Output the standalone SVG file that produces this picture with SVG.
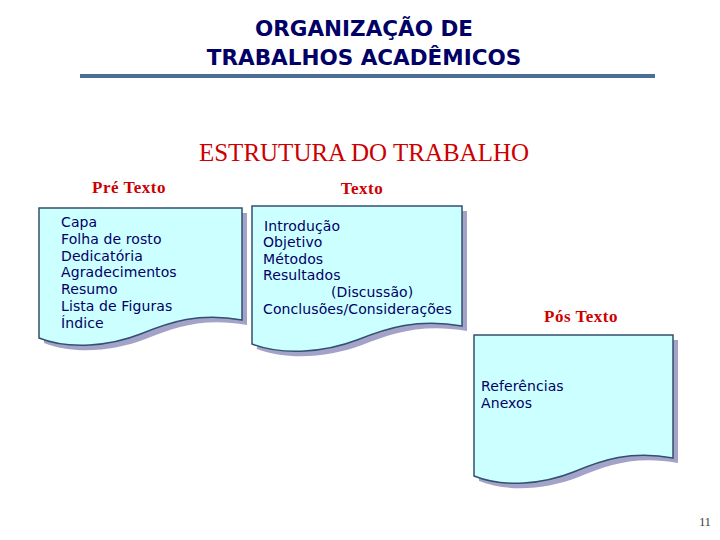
<svg xmlns="http://www.w3.org/2000/svg" width="720" height="540" viewBox="0 0 720 540">
<style>
.title{font-family:"DejaVu Sans",Verdana,sans-serif;font-weight:bold;font-size:21.5px;fill:#000066;text-anchor:middle}
.head{font-family:"Liberation Serif","Times New Roman",serif;fill:#cc0000}
.lbl{font-family:"Liberation Serif","Times New Roman",serif;font-weight:bold;font-size:17px;letter-spacing:0.5px;fill:#cc0000;text-anchor:middle}
.doc{fill:#ccffff;stroke:#33506e;stroke-width:1.5}
.shadow{fill:#a3a3c9}
.item{font-family:"DejaVu Sans",Verdana,sans-serif;font-size:14px;letter-spacing:0.1px;fill:#000066}
.pg{font-family:"Liberation Serif","Times New Roman",serif;font-size:12px;fill:#333333;text-anchor:middle}
</style>
<rect width="720" height="540" fill="#ffffff"/>
<g id="title">
<text class="title" x="364" y="36">ORGANIZAÇÃO DE</text>
<text class="title" x="364" y="65">TRABALHOS ACADÊMICOS</text>
<line x1="80" y1="76" x2="655" y2="76" stroke="#4a6e94" stroke-width="4"/>
</g>
<g id="heading">
<text class="head" x="364" y="161" font-size="25" text-anchor="middle">ESTRUTURA DO TRABALHO</text>
</g>
<g id="pre-texto">
<text class="lbl" x="129" y="193">Pré Texto</text>
<path class="shadow" transform="translate(5,5)" d="M39,208 H242 V320 C199,312 170,322 140.5,334 C110,346 69,350 39,338 Z"/>
<path class="doc" d="M39,208 H242 V320 C199,312 170,322 140.5,334 C110,346 69,350 39,338 Z"/>
<text class="item" x="61" y="227">Capa</text>
<text class="item" x="61" y="244">Folha de rosto</text>
<text class="item" x="61" y="261">Dedicatória</text>
<text class="item" x="61" y="277">Agradecimentos</text>
<text class="item" x="61" y="294">Resumo</text>
<text class="item" x="61" y="311">Lista de Figuras</text>
<text class="item" x="61" y="328">Índice</text>
</g>
<g id="texto">
<text class="lbl" x="362" y="194">Texto</text>
<path class="shadow" transform="translate(5,5)" d="M252,206 H462 V326 C418,318 387,328 357,340 C325.5,352 283.5,356 252,344 Z"/>
<path class="doc" d="M252,206 H462 V326 C418,318 387,328 357,340 C325.5,352 283.5,356 252,344 Z"/>
<text class="item" x="264" y="231">Introdução</text>
<text class="item" x="263" y="247">Objetivo</text>
<text class="item" x="263" y="264">Métodos</text>
<text class="item" x="263" y="280">Resultados</text>
<text class="item" x="331" y="297">(Discussão)</text>
<text class="item" x="263" y="314">Conclusões/Considerações</text>
</g>
<g id="pos-texto">
<text class="lbl" x="581" y="322">Pós Texto</text>
<path class="shadow" transform="translate(5,5)" d="M474,335 H673 V458 C631,450 602,460 573.5,472 C543.6,484 504,488 474,476 Z"/>
<path class="doc" d="M474,335 H673 V458 C631,450 602,460 573.5,472 C543.6,484 504,488 474,476 Z"/>
<text class="item" x="481" y="391">Referências</text>
<text class="item" x="481" y="408">Anexos</text>
</g>
<g id="connectors"></g>
<text class="pg" x="705" y="526">11</text>
</svg>
